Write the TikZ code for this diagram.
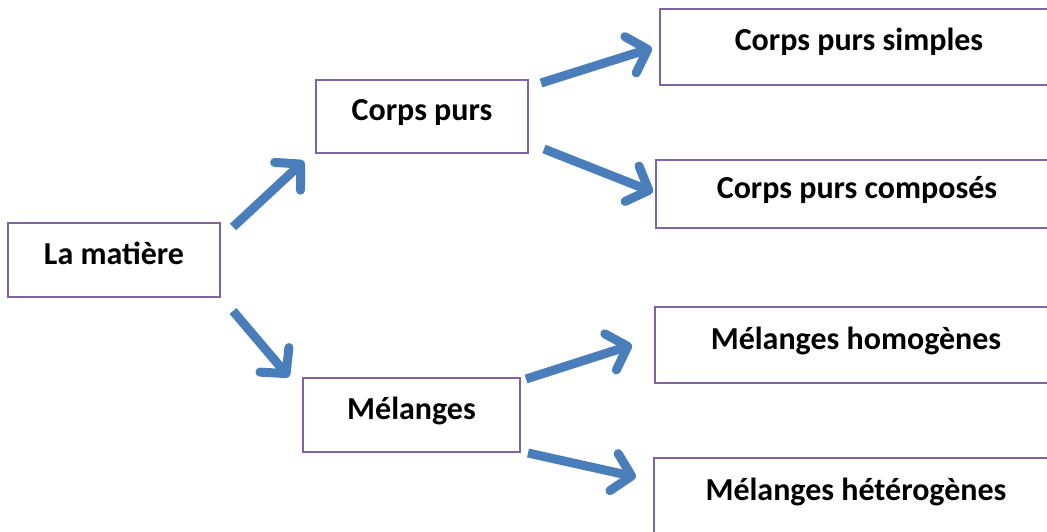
\documentclass[tikz,border=0pt]{standalone}
\usepackage{fontspec}
\setmainfont{Carlito}
\usetikzlibrary{arrows.meta}
\definecolor{boxpurple}{RGB}{128,100,162}
\definecolor{arrowblue}{RGB}{74,126,187}

\begin{document}
\begin{tikzpicture}[x=1pt,y=-1pt,
    box/.style={rectangle, draw=boxpurple, line width=2pt, minimum height=74pt, inner sep=0pt,
        text height=26pt, text depth=18pt, font=\bfseries\fontsize{32}{38}\selectfont},
    fleche/.style={arrowblue, line width=9pt, -{Straight Barb[length=18pt,width=38pt,round]}}]
    \useasboundingbox (0,0) rectangle (1047,532);
    \clip (0,0) rectangle (1047,532);

    % Root
    \node[box, minimum width=212pt] (matiere) at (114,260) {La matière};

    % Second level
    \node[box, minimum width=212pt, minimum height=73pt] (purs) at (422,116.5) {Corps purs};
    \node[box, minimum width=217pt] (melanges) at (411.5,415) {Mélanges};

    % Third level (cut by the right edge)
    \node[box, minimum width=398pt, minimum height=76pt] (simples) at (859,47) {Corps purs simples};
    \node[box, minimum width=402pt, minimum height=68pt] (composes) at (857,194) {Corps purs composés};
    \node[box, minimum width=402pt, minimum height=76pt] (homogenes) at (856,345) {Mélanges homogènes};
    \node[box, minimum width=404pt, minimum height=76pt] (heterogenes) at (856,496) {Mélanges hétérogènes};

    \draw[fleche] ([shift={(12,5)}]matiere.north east) -- ([shift={(-11,7)}]purs.south west);
    \draw[fleche] ([shift={(12,13)}]matiere.south east) -- ([shift={(-13,0)}]melanges.north west);
    \draw[fleche] ([shift={(12,4)}]purs.north east) -- ([shift={(-7,1)}]simples.west);
    \draw[fleche] ([shift={(15,-5)}]purs.south east) -- ([shift={(-2,-2)}]composes.west);
    \draw[fleche] ([shift={(5,2)}]melanges.north east) -- ([shift={(-22,0)}]homogenes.west);
    \draw[fleche] ([shift={(7,0)}]melanges.south east) -- ([shift={(-17,20)}]heterogenes.north west);
\end{tikzpicture}
\end{document}
